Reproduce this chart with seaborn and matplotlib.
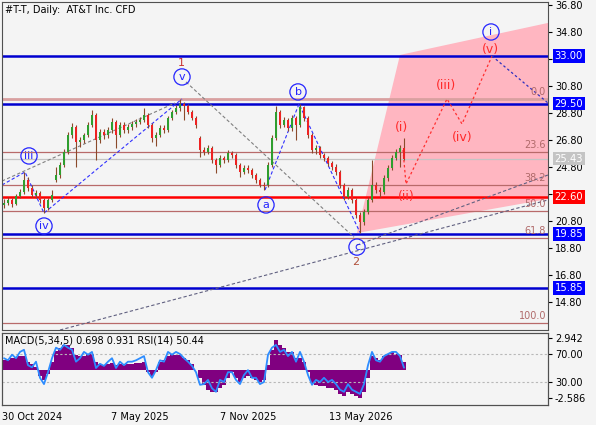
import numpy as np
import pandas as pd
import matplotlib
matplotlib.use("Agg")
import matplotlib.pyplot as plt
import matplotlib.transforms as mtransforms
import seaborn as sns

sns.set_style("white")
plt.rcParams['font.family'] = ['DejaVu Sans']

# ---------------- data ----------------
opens = [22.00, 22.13, 22.36, 22.06, 22.65, 22.95, 23.84, 23.24, 22.73, 22.87,
         22.36, 21.76, 22.36, 23.84, 24.21, 24.95, 25.91, 27.17, 27.76, 26.65,
         26.80, 27.17, 27.91, 28.65, 26.80, 27.39, 27.17, 27.54, 28.13, 27.17,
         27.91, 27.54, 27.76, 27.99, 28.13, 28.28, 28.65, 27.91, 26.95, 27.17,
         27.69, 27.54, 28.43, 28.87, 29.17, 29.47, 29.32, 28.87, 28.43, 26.95,
         26.06, 25.91, 26.21, 25.32, 24.95, 25.47, 25.32, 25.84, 25.69, 24.95,
         24.43, 24.73, 24.58, 24.21, 23.84, 23.47, 23.47, 24.95, 26.95, 28.87,
         27.91, 28.28, 27.69, 28.43, 27.91, 29.24, 28.43, 27.17, 26.06, 26.21,
         25.69, 25.47, 25.10, 24.80, 24.43, 23.47, 22.58, 23.10, 22.36, 21.24,
         20.73, 21.47, 22.36, 23.47, 23.10, 22.95, 23.99, 24.73, 25.47, 25.91,
         26.21]
highs = [22.40, 22.55, 22.50, 22.80, 23.20, 24.43, 24.05, 23.45, 23.10, 23.00,
         22.50, 22.50, 23.10, 24.80, 25.20, 26.10, 27.40, 28.06, 27.90, 27.05,
         27.35, 28.15, 29.02, 28.80, 27.60, 27.60, 27.80, 28.43, 28.30, 28.10,
         28.10, 27.95, 28.20, 28.35, 28.50, 29.17, 28.80, 28.05, 27.40, 27.90,
         27.90, 28.60, 29.05, 29.40, 29.84, 29.65, 29.50, 29.05, 28.60, 27.10,
         26.30, 26.45, 26.35, 25.50, 25.70, 25.65, 26.05, 26.00, 25.85, 25.10,
         24.95, 24.95, 24.75, 24.35, 24.00, 23.70, 25.15, 27.20, 29.32, 29.05,
         28.50, 28.45, 28.65, 28.60, 29.47, 29.35, 28.55, 27.30, 26.45, 26.35,
         25.85, 25.65, 25.25, 25.00, 24.55, 23.60, 23.30, 23.25, 22.50, 21.45,
         21.70, 22.55, 25.32, 23.70, 23.30, 24.20, 24.95, 25.70, 26.10, 26.45,
         26.95]
lows = [21.80, 21.95, 21.85, 21.95, 22.50, 22.80, 23.00, 22.55, 22.50, 22.15,
        21.39, 21.60, 22.20, 23.69, 24.00, 24.80, 25.80, 26.95, 24.80, 26.30,
        26.60, 27.00, 27.75, 25.32, 26.55, 26.90, 26.95, 27.35, 26.21, 27.00,
        27.30, 27.35, 27.55, 27.80, 27.95, 28.10, 27.70, 26.65, 26.36, 27.00,
        27.30, 27.40, 28.25, 28.70, 28.95, 28.28, 28.70, 28.25, 27.70, 25.54,
        25.70, 25.75, 25.10, 24.36, 24.80, 25.10, 25.15, 25.45, 24.75, 24.06,
        24.25, 24.35, 24.00, 23.65, 23.30, 23.10, 23.35, 24.80, 26.80, 27.70,
        27.75, 27.45, 27.50, 26.80, 27.80, 28.20, 26.95, 25.85, 25.80, 25.45,
        25.25, 24.90, 24.55, 24.20, 23.25, 22.35, 22.40, 22.15, 21.00, 19.95,
        20.50, 21.30, 22.20, 22.90, 22.58, 22.80, 23.80, 24.55, 25.30, 24.80,
        25.30]
closes = [22.13, 22.36, 22.06, 22.65, 22.95, 23.84, 23.24, 22.73, 22.87, 22.36,
          21.76, 22.36, 22.73, 24.21, 24.95, 25.91, 27.17, 27.76, 26.65, 26.80,
          27.17, 27.91, 28.65, 26.80, 27.39, 27.17, 27.54, 28.13, 27.17, 27.91,
          27.54, 27.76, 27.99, 28.13, 28.28, 28.65, 27.91, 26.95, 27.17, 27.69,
          27.54, 28.43, 28.87, 29.17, 29.47, 29.32, 28.87, 28.43, 27.91, 26.06,
          25.91, 26.21, 25.32, 24.95, 25.47, 25.32, 25.84, 25.69, 24.95, 24.43,
          24.73, 24.58, 24.21, 23.84, 23.47, 23.39, 24.95, 26.95, 28.87, 27.91,
          28.28, 27.69, 28.43, 27.91, 29.24, 28.43, 27.17, 26.06, 26.21, 25.69,
          25.47, 25.10, 24.80, 24.43, 23.47, 22.58, 23.10, 22.36, 21.24, 20.73,
          21.47, 22.36, 23.47, 23.10, 22.95, 23.99, 24.73, 25.47, 25.91, 26.21,
          25.43]
macd_hist = [0.9, 0.9, 1.1, 1.2, 1.3, 1.3, 0.7, 0.5, 0.3, -0.6,
             -0.9, -0.4, 0.7, 1.7, 2.0, 2.3, 2.3, 2.0, 1.4, 1.3,
             1.3, 1.5, 1.5, 0.7, 0.55, 0.45, 0.55, 0.65, 0.45, 0.55,
             0.45, 0.55, 0.55, 0.65, 0.65, 0.7, -0.2, -0.55, -0.2, 0.7,
             0.9, 1.3, 1.5, 1.4, 1.4, 1.1, 0.9, 0.55, 0.0, -0.75,
             -1.4, -1.85, -2.0, -2.0, -1.65, -1.4, -0.75, -0.2, -0.75, -1.1,
             -0.75, -0.55, -0.75, -0.9, -1.1, -0.9, 0.45, 1.85, 2.75, 2.3,
             2.0, 1.65, 1.65, 1.1, 1.1, 0.7, -0.2, -1.2, -1.4, -1.5,
             -1.5, -1.65, -1.65, -1.85, -2.2, -2.4, -2.0, -2.2, -2.4, -2.6,
             -2.0, -0.75, 1.3, 1.1, 0.9, 1.3, 1.5, 1.65, 1.5, 1.4,
             0.698]
rsi = [64, 61, 69, 64, 73, 76, 54, 51, 59, 36,
       27, 44, 64, 79, 76, 83, 79, 76, 59, 64,
       73, 69, 73, 50, 56, 53, 59, 64, 50, 59,
       54, 59, 59, 61, 64, 67, 44, 36, 47, 61,
       59, 73, 69, 73, 70, 64, 59, 53, 44, 26,
       27, 33, 21, 16, 33, 30, 44, 44, 33, 27,
       40, 47, 36, 36, 27, 30, 69, 79, 83, 73,
       76, 67, 73, 59, 73, 59, 40, 26, 33, 30,
       36, 30, 33, 27, 19, 16, 27, 19, 16, 13,
       27, 54, 73, 61, 59, 67, 70, 73, 73, 67,
       50.44]

date_labels = ["30 Oct 2024", "7 May 2025", "7 Nov 2025", "13 May 2026"]
date_ticks = [-0.5, 26.75, 54.0, 81.25]
price_ticks = [14.80, 16.80, 18.80, 20.80, 22.80, 24.80, 26.80, 28.80, 30.80, 32.80, 34.80, 36.80]
hidden_ticks = [22.80, 32.80]   # covered by the level boxes in the reference

blue_levels = [33.00, 29.50, 19.85, 15.85]
red_level = 22.60
last_price = 25.43
fib_levels = [29.84, 25.92, 23.50, 21.54, 19.58, 13.24]
fib_names = ["0.0", "23.6", "38.2", "50.0", "61.8", "100.0"]

circle_labels = ["iii", "iv", "v", "a", "b", "c", "i"]
circle_x = [6.25, 10.0, 44.5, 65.5, 73.5, 88.25, 121.75]
circle_y = [25.62, 20.43, 31.47, 21.99, 30.36, 18.87, 34.80]
degree_labels = ["1", "2"]
degree_x = [44.25, 88.0]
degree_y = [32.50, 17.76]
degree_colors = ["#c83030", "#b0503a"]
minor_labels = ["(i)", "(ii)", "(iii)", "(iv)", "(v)"]
minor_x = [99.25, 100.5, 110.5, 114.5, 121.5]
minor_y = [27.69, 22.58, 30.80, 27.02, 33.50]

impulse_x = [-0.5, 5.25, 10.0, 44.5]
impulse_y = [23.47, 24.43, 21.39, 29.84]
channel_x = [-0.5, 42.75]
channel_y = [23.76, 29.54]
abc_x = [65.25, 73.75, 89.0]
abc_y = [23.10, 29.47, 19.95]
corr_x = [45.5, 87.5]
corr_y = [31.10, 19.60]
trend_x = [14.0, 136.0]
trend_y = [12.73, 22.36]
ext_x = [88.25, 136.0]
ext_y = [19.02, 24.21]
proj_x = [99.75, 100.5, 110.75, 114.5, 122.0]
proj_y = [26.06, 23.54, 29.84, 27.99, 33.02]
next_x = [122.0, 136.0]
next_y = [33.02, 29.54]
zone_x = [88.25, 99.0, 136.0, 136.0]
zone_y = [19.91, 33.10, 35.47, 22.43]

# ---------------- figure ----------------
W, H = 596, 425
BG = "#f4f4f4"
fig = plt.figure(figsize=(W / 100, H / 100), dpi=100, facecolor=BG)
ax = fig.add_axes([2 / W, 1 - 330 / H, 546 / W, 328 / H], facecolor=BG)
axp = fig.add_axes([2 / W, 1 - 405 / H, 546 / W, 72 / H], facecolor=BG, sharex=ax)

XMIN, XMAX = -0.5, 136.0
ax.set_xlim(XMIN, XMAX)
ax.set_ylim(12.73, 37.02)

# pink projection zone
ax.fill(zone_x, zone_y, color="#ffb6c1", lw=0, zorder=0.5)

# horizontal levels
for lv, nm in zip(fib_levels, fib_names):
    lw = 2.0 if nm == "0.0" else 0.9
    col = "#d9a0a0" if nm == "0.0" else "#b86a6a"
    ax.axhline(lv, color=col, lw=lw, zorder=1)
ax.axhline(last_price, color="#c4c4c4", lw=0.9, zorder=1)
for lv in blue_levels:
    ax.axhline(lv, color="#0000d0", lw=1.8, zorder=1.2)
ax.axhline(red_level, color="#ff0000", lw=1.8, zorder=1.2)

# dashed wave lines
dash = (0, (3, 2))
ax.plot(channel_x, channel_y, color="#808080", lw=0.8, ls=dash, zorder=1.5)
ax.plot(corr_x, corr_y, color="#808080", lw=0.8, ls=dash, zorder=1.5)
ax.plot(trend_x, trend_y, color="#606080", lw=0.8, ls=dash, zorder=1.5)
ax.plot(ext_x, ext_y, color="#606080", lw=0.8, ls=dash, zorder=1.5)
ax.plot(impulse_x, impulse_y, color="#3030ff", lw=0.8, ls=dash, zorder=1.6)
ax.plot(abc_x, abc_y, color="#3030ff", lw=0.8, ls=dash, zorder=1.6)
ax.plot(proj_x, proj_y, color="#ff3030", lw=0.9, ls=(0, (2, 2)), zorder=1.6)
ax.plot(next_x, next_y, color="#3030c0", lw=0.9, ls=(0, (2, 2)), zorder=1.6)

# candles
idx = np.arange(len(closes))
o = np.array(opens); h = np.array(highs); l = np.array(lows); c = np.array(closes)
up = c >= o
body_col = np.where(up, "#2e9e2e", "#ee2222")
ax.vlines(idx, l, h, colors="#8b4a2b", lw=0.8, zorder=2)
ax.bar(idx, np.maximum(np.abs(c - o), 0.06), bottom=np.minimum(o, c), width=0.62,
       color=body_col, edgecolor="none", zorder=2.2)

# labels: circled
for t, x, y in zip(circle_labels, circle_x, circle_y):
    ax.text(x, y, t, ha="center", va="center", color="#2424ff", fontsize=8,
            zorder=4, bbox=dict(boxstyle="circle,pad=0.28", fc="none", ec="#2424ff", lw=0.9))
for t, x, y, col in zip(degree_labels, degree_x, degree_y, degree_colors):
    ax.text(x, y, t, ha="center", va="center", color=col, fontsize=8, zorder=4)
for t, x, y in zip(minor_labels, minor_x, minor_y):
    ax.text(x, y, t, ha="center", va="center", color="#ff2a2a", fontsize=9, zorder=4)

# fib labels
for lv, nm in zip(fib_levels, fib_names):
    ax.text(0.9965, lv + 0.12, nm, transform=mtransforms.blended_transform_factory(ax.transAxes, ax.transData),
            ha="right", va="bottom", color="#b06a6a", fontsize=7, zorder=4)

# title
ax.text(0.006, 0.991, "#T-T, Daily:  AT&T Inc. CFD", transform=ax.transAxes, ha="left", va="top",
        fontsize=7, color="#000000", zorder=5)

# right axis ticks
ax.yaxis.tick_right()
ax.set_yticks(price_ticks)
ax.set_yticklabels(["" if v in hidden_ticks else f"{v:.2f}" for v in price_ticks])
ax.tick_params(axis="y", direction="out", length=3, width=0.8, pad=2, labelsize=7, colors="#000000")
ax.tick_params(axis="x", bottom=False, labelbottom=False)

trans = mtransforms.blended_transform_factory(ax.transAxes, ax.transData)
boxes = [(33.00, "#0000ff", "white"), (29.50, "#0000ff", "white"), (last_price, "#c4c4c4", "white"),
         (red_level, "#ff0000", "white"), (19.85, "#0000ff", "white"), (15.85, "#0000ff", "white")]
for v, fc, tc in boxes:
    ax.text(1.012, v, f"{v:.2f}", transform=trans, ha="left", va="center", fontsize=7.2,
            color=tc, clip_on=False, zorder=6,
            bbox=dict(boxstyle="square,pad=0.18", fc=fc, ec="none"))

for sp in ax.spines.values():
    sp.set_color("#505050"); sp.set_linewidth(0.8)

# ---------------- indicator panel ----------------
axp.set_ylim(-3.231, 3.40)
axp.bar(idx, macd_hist, width=1.0, color="#800080", edgecolor="none", zorder=2)
axr = axp.twinx()
axr.set_ylim(-2.86, 100.0)
axr.axhline(70, color="#b8b8b8", lw=0.8, ls=(0, (2, 2)), zorder=1)
axr.axhline(30, color="#b8b8b8", lw=0.8, ls=(0, (2, 2)), zorder=1)
sns.lineplot(x=idx, y=rsi, ax=axr, color="#2d8cff", linewidth=1.3, zorder=3)
axr.set_xlabel(""); axr.set_ylabel("")

axp.yaxis.tick_right()
axp.set_yticks([2.942, -2.586])
axp.set_yticklabels(["2.942", "-2.586"])
axr.set_yticks([70, 30])
axr.set_yticklabels(["70.00", "30.00"])
for a in (axp, axr):
    a.tick_params(axis="y", direction="out", length=3, width=0.8, pad=2, labelsize=7, colors="#000000")
axp.set_xlim(XMIN, XMAX)
axp.set_xticks(date_ticks)
axp.set_xticklabels(date_labels, ha="left")
axp.tick_params(axis="x", direction="out", length=3, width=0.8, pad=2, labelsize=7, colors="#000000")
axr.tick_params(axis="x", bottom=False, labelbottom=False)
for a in (axp, axr):
    for sp in a.spines.values():
        sp.set_color("#505050"); sp.set_linewidth(0.8)

axp.text(0.006, 0.89, "MACD(5,34,5) 0.698 0.931 RSI(14) 50.44", transform=axp.transAxes,
         ha="left", va="center", fontsize=7, color="#000000", zorder=5)

fig.savefig("out.png", dpi=100, facecolor=BG)
